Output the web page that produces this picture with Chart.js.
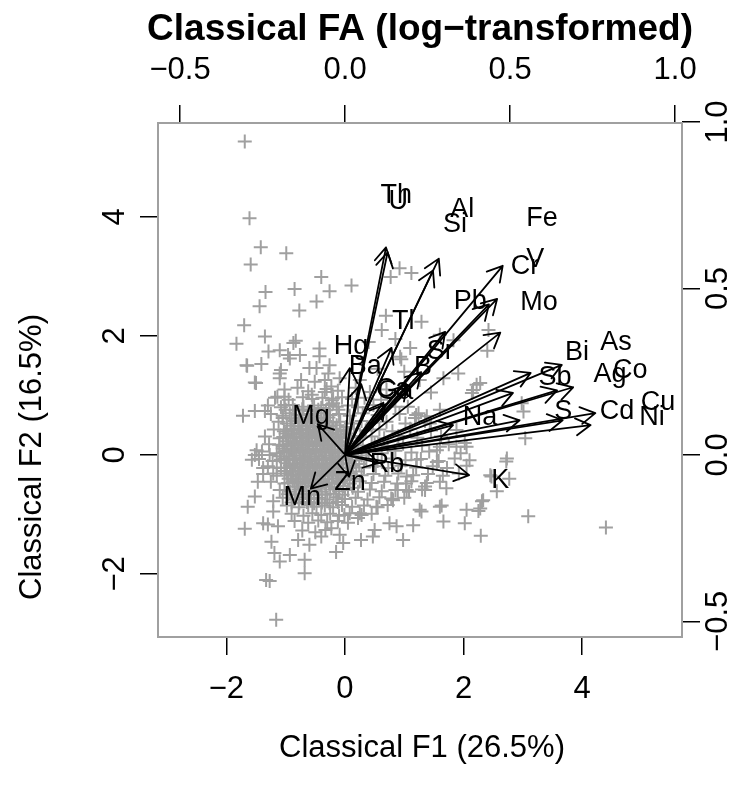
<!DOCTYPE html>
<html>
<head>
<meta charset="utf-8">
<script src="https://cdn.jsdelivr.net/npm/chart.js@4/dist/chart.umd.min.js"></script>
<style>
  body { margin: 0; background: #fff; }
  canvas { display: block; }
</style>
</head>
<body>
<canvas id="biplot" width="753" height="794"></canvas>
<script>
const mainTitle = 'Classical FA (log\u2212transformed)';
const xTitle = 'Classical F1 (26.5%)';
const yTitle = 'Classical F2 (16.5%)';

const scoreTicks = [-2, 0, 2, 4];
const loadTicks = [-0.5, 0, 0.5, 1];

// factor scores (F1, F2)
const scores = [
  [-1.69, 5.27], [-1.61, 3.98], [-1.42, 3.49], [-0.99, 3.39], [-1.59, 3.20], [-0.40, 2.99], [0.11, 2.85],
  [0.77, 2.99], [0.92, 3.14], [1.12, 3.06], [-1.34, 2.74], [-0.85, 2.79], [-0.26, 2.75], [-0.48, 2.58],
  [-1.44, 2.50], [-0.77, 2.43], [0.69, 2.34], [-1.70, 2.18], [-1.83, 1.87], [-1.35, 1.99], [-0.83, 1.92],
  [-0.43, 1.79], [-1.29, 1.74], [-1.10, 1.76], [-0.96, 1.68], [-0.76, 1.68], [-0.93, 1.62], [-0.43, 1.66],
  [0.95, 1.61], [-1.65, 1.50], [-1.41, 1.53], [-1.08, 1.43], [-0.60, 1.46], [-0.48, 1.46], [-0.26, 1.51],
  [-1.50, 1.21], [-1.10, 1.29], [-0.74, 1.26], [-0.51, 1.23], [-0.34, 1.26], [-0.23, 1.15], [-0.09, 1.29],
  [-1.14, 0.98], [-1.02, 0.98], [-0.56, 1.01], [-0.34, 1.06], [-0.20, 0.95], [-1.72, 0.66], [-1.52, 0.74],
  [-1.35, 0.74], [-1.02, 0.84], [-1.52, 0.00], [-1.27, 0.00], [1.01, 1.15], [1.06, 0.81], [1.20, 0.67],
  [-1.66, 1.51], [-1.10, 1.37], [-1.52, 1.22], [-0.28, 1.37], [-0.20, 0.87], [-0.11, 0.76], [-1.49, 0.08],
  [-1.57, -0.08], [-1.38, -0.22], [-1.21, -0.31], [-0.87, 1.88], [0.25, 1.26], [0.93, 1.65], [1.26, 1.26],
  [0.55, 1.45], [0.70, 1.10], [1.00, 1.40], [1.45, 1.05], [0.40, 1.90], [0.62, 2.10], [0.85, 1.95], [1.10, 1.80],
  [1.29, 2.24], [1.60, 2.02], [1.83, 1.93], [2.42, 2.10], [2.40, 1.75], [1.66, 1.29], [1.91, 1.37], [2.16, 1.09],
  [2.28, 1.21], [3.01, 0.73], [2.98, 0.87], [3.04, 0.28], [2.73, -0.06], [1.60, 0.76], [1.38, 0.65], [1.88, 0.42],
  [2.05, 0.14], [1.55, 0.08], [2.22, 1.18], [2.14, 1.04], [1.24, 0.70], [1.43, 0.53], [1.88, 0.14], [2.02, 0.20],
  [1.60, 0.14], [1.21, -0.08], [1.55, -0.12], [2.47, -0.36], [2.33, -0.76], [2.28, -0.90], [2.05, -0.92],
  [1.60, -0.87], [1.35, -0.53], [1.26, -0.92], [1.04, -0.36], [1.04, -0.59], [0.81, -0.76], [0.53, -0.87],
  [0.25, -0.98], [2.72, -0.11], [2.45, -0.34], [2.77, -0.40], [2.56, -0.61], [2.31, -0.78], [2.25, -0.94],
  [1.63, -0.85], [1.29, -0.95], [1.66, -1.12], [2.02, -1.15], [2.29, -1.36], [3.09, -1.03], [4.40, -1.22],
  [1.71, -0.56], [1.35, -0.59], [-1.47, -0.45], [-1.52, -0.70], [-1.64, -0.87], [-1.21, -0.78], [-1.21, -0.95],
  [-1.69, -1.24], [-1.38, -1.15], [-1.30, -1.17], [-1.13, -1.20], [-1.24, -1.46], [-1.19, -1.65], [-1.10, -1.79],
  [-0.93, -1.68], [-0.79, -1.43], [-0.68, -1.76], [-0.68, -1.99], [-0.60, -1.51], [-0.40, -1.37], [-0.23, -1.23],
  [-0.09, -1.34], [-0.15, -1.63], [-0.03, -1.48], [0.27, -1.43], [0.47, -1.37], [0.50, -1.26], [0.75, -1.15],
  [0.87, -1.20], [0.98, -1.43], [1.15, -1.18], [-1.33, -2.10], [-1.27, -2.12], [-1.16, -2.77], [1.03, -0.48],
  [-0.01, -1.01], [0.22, -1.06], [0.78, -0.73], [0.89, -0.59],
  // main cloud
  [-1.02, 1.10], [-0.80, 1.13], [-0.62, 1.07], [-0.31, 1.11], [-0.12, 1.08], [0.18, 1.13], [0.42, 1.06],
  [-1.18, 0.96], [-0.95, 0.93], [-0.71, 0.97], [-0.55, 0.94], [-0.38, 0.96], [-0.22, 0.92], [-0.05, 0.97],
  [0.12, 0.94], [0.33, 0.96], [0.61, 0.93],
  [-1.30, 0.83], [-1.08, 0.80], [-0.88, 0.84], [-0.70, 0.81], [-0.52, 0.83], [-0.40, 0.79], [-0.27, 0.84],
  [-0.14, 0.81], [0.05, 0.83], [0.22, 0.80], [0.48, 0.84], [0.85, 0.81],
  [-1.25, 0.69], [-1.05, 0.66], [-0.93, 0.70], [-0.78, 0.67], [-0.62, 0.69], [-0.50, 0.66], [-0.36, 0.70],
  [-0.25, 0.67], [-0.10, 0.69], [0.08, 0.66], [0.30, 0.70], [0.55, 0.67], [0.92, 0.69], [1.18, 0.62],
  [-1.12, 0.56], [-0.98, 0.53], [-0.85, 0.57], [-0.72, 0.54], [-0.60, 0.56], [-0.47, 0.53], [-0.33, 0.57],
  [-0.20, 0.54], [-0.08, 0.56], [0.10, 0.53], [0.28, 0.57], [0.47, 0.54], [0.70, 0.56], [1.02, 0.53], [1.35, 0.57],
  [-1.20, 0.43], [-1.03, 0.40], [-0.90, 0.44], [-0.77, 0.41], [-0.65, 0.43], [-0.52, 0.40], [-0.41, 0.44],
  [-0.28, 0.41], [-0.15, 0.43], [-0.02, 0.40], [0.15, 0.44], [0.35, 0.41], [0.58, 0.43], [0.80, 0.40],
  [1.10, 0.44], [1.45, 0.41],
  [-1.35, 0.31], [-1.10, 0.28], [-0.95, 0.32], [-0.82, 0.29], [-0.70, 0.31], [-0.57, 0.28], [-0.45, 0.32],
  [-0.33, 0.29], [-0.20, 0.31], [-0.06, 0.28], [0.10, 0.32], [0.26, 0.29], [0.45, 0.31], [0.66, 0.28],
  [0.90, 0.32], [1.22, 0.29], [1.62, 0.31],
  [-1.28, 0.18], [-1.05, 0.15], [-0.92, 0.19], [-0.80, 0.16], [-0.67, 0.18], [-0.55, 0.15], [-0.42, 0.19],
  [-0.30, 0.16], [-0.17, 0.18], [-0.04, 0.15], [0.12, 0.19], [0.30, 0.16], [0.50, 0.18], [0.72, 0.15],
  [0.98, 0.19], [1.30, 0.16], [1.75, 0.18],
  [-1.40, 0.06], [-1.15, 0.03], [-0.98, 0.07], [-0.85, 0.04], [-0.72, 0.06], [-0.60, 0.03], [-0.48, 0.07],
  [-0.35, 0.04], [-0.22, 0.06], [-0.10, 0.03], [0.05, 0.07], [0.22, 0.04], [0.40, 0.06], [0.62, 0.03],
  [0.85, 0.07], [1.12, 0.04], [1.42, 0.06], [1.95, 0.03],
  [-1.45, -0.07], [-1.22, -0.10], [-1.02, -0.06], [-0.88, -0.09], [-0.76, -0.07], [-0.63, -0.10], [-0.51, -0.06],
  [-0.39, -0.09], [-0.26, -0.07], [-0.13, -0.10], [0.02, -0.06], [0.18, -0.09], [0.36, -0.07], [0.55, -0.10],
  [0.78, -0.06], [1.02, -0.09], [1.28, -0.07], [1.58, -0.10], [1.85, -0.06], [2.10, -0.09],
  [-1.30, -0.19], [-1.08, -0.22], [-0.93, -0.18], [-0.80, -0.21], [-0.68, -0.19], [-0.55, -0.22], [-0.43, -0.18],
  [-0.30, -0.21], [-0.17, -0.19], [-0.03, -0.22], [0.14, -0.18], [0.32, -0.21], [0.52, -0.19], [0.73, -0.22],
  [0.95, -0.18], [1.20, -0.21], [1.48, -0.19], [1.72, -0.22], [2.05, -0.18],
  [-1.38, -0.32], [-1.15, -0.35], [-0.98, -0.31], [-0.84, -0.34], [-0.71, -0.32], [-0.58, -0.35], [-0.46, -0.31],
  [-0.33, -0.34], [-0.20, -0.32], [-0.06, -0.35], [0.10, -0.31], [0.28, -0.34], [0.48, -0.32], [0.68, -0.35],
  [0.90, -0.31], [1.15, -0.34], [1.40, -0.32], [1.65, -0.35], [1.92, -0.31],
  [-1.25, -0.45], [-1.02, -0.48], [-0.88, -0.44], [-0.75, -0.47], [-0.62, -0.45], [-0.49, -0.48], [-0.36, -0.44],
  [-0.22, -0.47], [-0.08, -0.45], [0.08, -0.48], [0.25, -0.44], [0.45, -0.47], [0.66, -0.45], [0.88, -0.48],
  [1.12, -0.44], [1.38, -0.47], [1.60, -0.45],
  [-1.10, -0.59], [-0.92, -0.62], [-0.78, -0.58], [-0.65, -0.61], [-0.52, -0.59], [-0.39, -0.62], [-0.25, -0.58],
  [-0.10, -0.61], [0.05, -0.59], [0.22, -0.62], [0.42, -0.58], [0.62, -0.61], [0.85, -0.59], [1.08, -0.62], [1.30, -0.58],
  [-1.05, -0.72], [-0.85, -0.75], [-0.70, -0.71], [-0.57, -0.74], [-0.44, -0.72], [-0.30, -0.75], [-0.15, -0.71],
  [0.00, -0.74], [0.18, -0.72], [0.38, -0.75], [0.58, -0.71], [0.80, -0.74], [1.00, -0.72],
  [-0.98, -0.85], [-0.78, -0.88], [-0.62, -0.84], [-0.48, -0.87], [-0.34, -0.85], [-0.20, -0.88], [-0.05, -0.84],
  [0.12, -0.87], [0.32, -0.85], [0.55, -0.88], [0.72, -0.84],
  [-0.90, -0.99], [-0.70, -1.02], [-0.55, -0.98], [-0.40, -1.01], [-0.25, -0.99], [-0.10, -1.02], [0.08, -0.98],
  [0.28, -1.01], [0.45, -0.99],
  [-0.85, -1.11], [-0.62, -1.14], [-0.45, -1.10], [-0.30, -1.13], [-0.12, -1.11], [0.05, -1.14],
  [-0.72, -1.27], [-0.50, -1.30], [-0.33, -1.26],
  // dense core
  [-0.92, 0.49], [-0.79, 0.48], [-0.66, 0.50], [-0.54, 0.47], [-0.40, 0.49], [-0.27, 0.48], [-0.14, 0.50], [0.02, 0.47],
  [-1.00, 0.36], [-0.86, 0.35], [-0.74, 0.37], [-0.61, 0.34], [-0.49, 0.36], [-0.37, 0.35], [-0.24, 0.37],
  [-0.11, 0.34], [0.05, 0.36],
  [-0.99, 0.23], [-0.86, 0.22], [-0.73, 0.24], [-0.61, 0.21], [-0.48, 0.23], [-0.36, 0.22], [-0.23, 0.24],
  [-0.10, 0.21], [0.06, 0.23],
  [-1.05, 0.11], [-0.91, 0.10], [-0.78, 0.12], [-0.66, 0.09], [-0.54, 0.11], [-0.41, 0.10], [-0.28, 0.12],
  [-0.16, 0.09], [0.00, 0.11], [0.15, 0.10],
  [-1.10, -0.02], [-0.94, -0.03], [-0.82, -0.01], [-0.69, -0.04], [-0.57, -0.02], [-0.45, -0.03], [-0.32, -0.01],
  [-0.19, -0.04], [-0.06, -0.02], [0.10, -0.03], [0.28, -0.01],
  [-0.98, -0.14], [-0.85, -0.15], [-0.72, -0.13], [-0.60, -0.16], [-0.48, -0.14], [-0.36, -0.15], [-0.23, -0.13],
  [-0.10, -0.16], [0.06, -0.14], [0.24, -0.15],
  [-1.02, -0.27], [-0.88, -0.28], [-0.76, -0.26], [-0.64, -0.29], [-0.52, -0.27], [-0.39, -0.28], [-0.26, -0.26],
  [-0.13, -0.29], [0.02, -0.27], [0.19, -0.28],
  [-0.95, -0.40], [-0.82, -0.41], [-0.69, -0.39], [-0.56, -0.42], [-0.43, -0.40], [-0.29, -0.41], [-0.15, -0.39],
  [0.00, -0.42], [0.16, -0.40],
  [-0.85, -0.53], [-0.72, -0.54], [-0.58, -0.52], [-0.45, -0.55], [-0.32, -0.53], [-0.18, -0.54], [-0.03, -0.52], [0.13, -0.55],
  [-1.05, 0.62], [-0.90, 0.61], [-0.77, 0.63], [-0.64, 0.60], [-0.52, 0.62], [-0.40, 0.61], [-0.28, 0.63],
  [-1.00, 0.76], [-0.85, 0.75], [-0.72, 0.77], [-0.58, 0.74], [-0.45, 0.76], [-0.32, 0.75],
  [-0.98, 0.43], [-0.86, 0.42], [-0.72, 0.44], [-0.59, 0.42], [-0.46, 0.43], [-0.33, 0.42], [-0.21, 0.44], [-0.08, 0.42],
  [-1.04, 0.30], [-0.89, 0.29], [-0.76, 0.31], [-0.64, 0.29], [-0.51, 0.30], [-0.39, 0.29], [-0.27, 0.31],
  [-0.14, 0.29], [0.01, 0.30],
  [-1.11, 0.17], [-0.97, 0.16], [-0.84, 0.18], [-0.71, 0.16], [-0.60, 0.17], [-0.47, 0.16], [-0.34, 0.18],
  [-0.21, 0.16], [-0.07, 0.17], [0.07, 0.16],
  [-1.02, 0.05], [-0.88, 0.04], [-0.75, 0.06], [-0.63, 0.04], [-0.50, 0.05], [-0.38, 0.04], [-0.25, 0.06],
  [-0.12, 0.04], [0.03, 0.05], [0.19, 0.04],
  [-1.08, -0.08], [-0.95, -0.09], [-0.82, -0.07], [-0.69, -0.09], [-0.57, -0.08], [-0.44, -0.09], [-0.32, -0.07],
  [-0.19, -0.09], [-0.05, -0.08], [0.11, -0.09],
  [-1.15, -0.21], [-1.00, -0.22], [-0.87, -0.20], [-0.74, -0.22], [-0.61, -0.21], [-0.49, -0.22], [-0.36, -0.20],
  [-0.24, -0.22], [-0.09, -0.21], [0.07, -0.22],
  [-0.91, -0.34], [-0.78, -0.35], [-0.65, -0.33], [-0.52, -0.35], [-0.40, -0.34], [-0.27, -0.35], [-0.12, -0.33], [0.04, -0.35],
  [-0.96, -0.47], [-0.80, -0.48], [-0.67, -0.46], [-0.54, -0.48], [-0.41, -0.47], [-0.27, -0.48], [-0.12, -0.46],
  [-0.96, -0.66], [-0.83, -0.67], [-0.70, -0.65], [-0.58, -0.67], [-0.46, -0.66], [-0.33, -0.67], [-0.19, -0.65], [-0.04, -0.67],
  [-0.90, -0.80], [-0.77, -0.81], [-0.64, -0.79], [-0.52, -0.81], [-0.39, -0.80], [-0.26, -0.81], [-0.12, -0.79]
];

// variable loadings; labels sit at the loading, arrows stop at 0.8 of it
const elements = ['Th', 'U', 'Al', 'Si', 'Fe', 'V', 'Cr', 'Pb', 'Mo', 'Tl', 'Hg', 'Ba', 'B', 'Sr', 'Ca', 'Ga',
  'Bi', 'As', 'Co', 'Ag', 'Sb', 'Cd', 'Cu', 'Ni', 'S', 'Na', 'Mg', 'Rb', 'Zn', 'Mn', 'K'];
const loadF1 = [0.155, 0.161, 0.355, 0.333, 0.597, 0.576, 0.545, 0.379, 0.588, 0.176, 0.018, 0.061, 0.236, 0.288,
  0.145, 0.152, 0.703, 0.821, 0.864, 0.803, 0.636, 0.824, 0.948, 0.930, 0.661, 0.409, -0.103, 0.127, 0.015, -0.130, 0.470];
const loadF2 = [0.779, 0.761, 0.737, 0.692, 0.710, 0.586, 0.565, 0.462, 0.459, 0.402, 0.326, 0.266, 0.263, 0.311,
  0.196, 0.190, 0.308, 0.338, 0.254, 0.242, 0.233, 0.130, 0.157, 0.112, 0.130, 0.112, 0.115, -0.030, -0.082, -0.127, -0.076];
const arrowShrink = 0.8;

const family = '"Liberation Sans", Arial, Helvetica, sans-serif';
const grey = '#a0a0a0';

function minusSign(s) {
    return s.replace('-', '\u2212');
}

function fixedTicks(values) {
    return scale => { scale.ticks = values.map(v => ({ value: v })); };
}

function axisOptions(position, min, max, ticks, size, fmt, showLabels) {
    const horizontal = position === 'top' || position === 'bottom';
    return {
        type: 'linear',
        position,
        min,
        max,
        afterBuildTicks: fixedTicks(ticks),
        afterFit: scale => {
            if (horizontal) scale.height = size; else scale.width = size;
        },
        grid: { drawOnChartArea: false, drawTicks: true, tickLength: 18, tickColor: '#000', lineWidth: 1.5, tickWidth: 1.5 },
        border: { display: false },
        ticks: {
            display: showLabels,
            font: { size: 31, family },
            color: '#000',
            padding: 16,
            maxRotation: 0,
            autoSkip: false,
            callback: v => fmt(v)
        }
    };
}

const intLabel = v => minusSign(String(v));
const decLabel = v => minusSign(v.toFixed(1));

function drawRotated(ctx, text, x, y) {
    ctx.save();
    ctx.translate(x, y);
    ctx.rotate(-Math.PI / 2);
    ctx.fillText(text, 0, 0);
    ctx.restore();
}

const loadingsPlugin = {
    id: 'loadings',
    afterDatasetsDraw(chart) {
        const { ctx } = chart;
        const x2 = chart.scales.x2, y2 = chart.scales.y2;
        const ox = x2.getPixelForValue(0), oy = y2.getPixelForValue(0);
        const headLen = 17, headAng = Math.PI / 6;
        ctx.save();
        ctx.strokeStyle = '#000';
        ctx.lineWidth = 1.8;
        ctx.lineCap = 'round';
        ctx.lineJoin = 'round';
        elements.forEach((name, i) => {
            const tx = x2.getPixelForValue(loadF1[i] * arrowShrink);
            const ty = y2.getPixelForValue(loadF2[i] * arrowShrink);
            const a = Math.atan2(ty - oy, tx - ox);
            ctx.beginPath();
            ctx.moveTo(ox, oy);
            ctx.lineTo(tx, ty);
            ctx.moveTo(tx - headLen * Math.cos(a - headAng), ty - headLen * Math.sin(a - headAng));
            ctx.lineTo(tx, ty);
            ctx.lineTo(tx - headLen * Math.cos(a + headAng), ty - headLen * Math.sin(a + headAng));
            ctx.stroke();
        });
        ctx.fillStyle = '#000';
        ctx.font = '27px ' + family;
        ctx.textAlign = 'center';
        ctx.textBaseline = 'middle';
        elements.forEach((name, i) => {
            ctx.fillText(name, x2.getPixelForValue(loadF1[i]), y2.getPixelForValue(loadF2[i]));
        });
        ctx.restore();
    },
    afterDraw(chart) {
        const { ctx, chartArea: area } = chart;
        const y = chart.scales.y, y2 = chart.scales.y2;
        ctx.save();
        ctx.fillStyle = '#000';
        ctx.textAlign = 'center';
        ctx.textBaseline = 'middle';
        ctx.font = '31px ' + family;
        // side axes: labels run parallel to the axis
        y.ticks.forEach(t => drawRotated(ctx, intLabel(t.value), area.left - 43, y.getPixelForValue(t.value)));
        y2.ticks.forEach(t => drawRotated(ctx, decLabel(t.value), area.right + 36, y2.getPixelForValue(t.value)));
        const cx = (area.left + area.right) / 2;
        ctx.fillText(xTitle, cx + 2, area.bottom + 111);
        drawRotated(ctx, yTitle, area.left - 126, 457);
        ctx.font = 'bold 37px ' + family;
        ctx.fillText(mainTitle, cx, 30);
        // plot frame
        ctx.strokeStyle = grey;
        ctx.lineWidth = 2;
        ctx.strokeRect(area.left, area.top, area.right - area.left, area.bottom - area.top);
        ctx.restore();
    }
};

new Chart(document.getElementById('biplot'), {
    type: 'scatter',
    data: {
        datasets: [{
            data: scores.map(([a, b]) => ({ x: a, y: b })),
            xAxisID: 'x',
            yAxisID: 'y',
            pointStyle: 'cross',
            pointRadius: 7,
            pointBorderWidth: 2,
            borderColor: grey,
            backgroundColor: grey
        }]
    },
    options: {
        responsive: false,
        animation: false,
        devicePixelRatio: 1,
        events: [],
        layout: { padding: 0 },
        plugins: { legend: { display: false }, tooltip: { enabled: false }, title: { display: false } },
        scales: {
            x: axisOptions('bottom', -3.153, 5.683, scoreTicks, 157, intLabel, true),
            y: axisOptions('left', -3.06, 5.58, scoreTicks, 158, intLabel, false),
            x2: axisOptions('top', -0.567, 1.021, loadTicks, 123, decLabel, true),
            y2: axisOptions('right', -0.547, 0.997, loadTicks, 71, decLabel, false)
        }
    },
    plugins: [loadingsPlugin]
});
</script>
</body>
</html>
